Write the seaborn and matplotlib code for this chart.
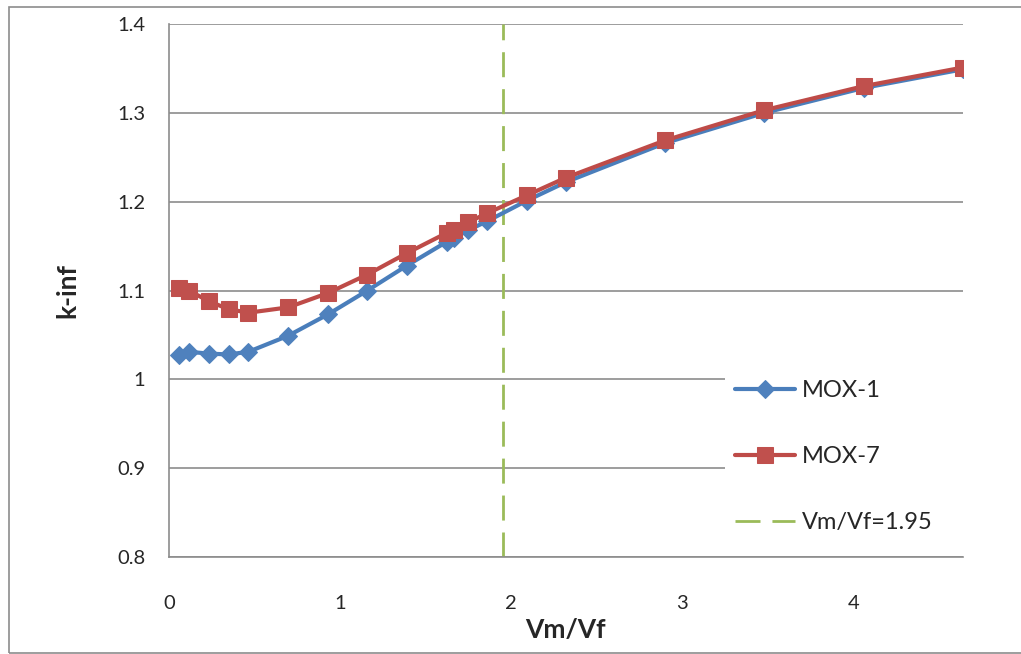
import matplotlib.pyplot as plt
import matplotlib.patches as mpatches
from matplotlib.ticker import FuncFormatter
import seaborn as sns

# values
vm_vf = [0.058, 0.116, 0.232, 0.348, 0.464, 0.696, 0.928, 1.16, 1.39, 1.625,
         1.665, 1.75, 1.86, 2.09, 2.32, 2.90, 3.48, 4.06, 4.64]
mox1 = [1.027, 1.031, 1.029, 1.028, 1.031, 1.049, 1.073, 1.100, 1.128, 1.155,
        1.159, 1.168, 1.178, 1.201, 1.222, 1.266, 1.300, 1.328, 1.349]
mox7 = [1.103, 1.100, 1.088, 1.079, 1.075, 1.081, 1.097, 1.118, 1.142, 1.165,
        1.168, 1.177, 1.187, 1.207, 1.227, 1.269, 1.303, 1.330, 1.351]
vline_x = 1.95
x_ticks = [0, 1, 2, 3, 4]
y_ticks = [0.8, 0.9, 1.0, 1.1, 1.2, 1.3, 1.4]

sns.set_style('white')
plt.rcParams['font.family'] = ['Lato', 'DejaVu Sans']

fig = plt.figure(figsize=(10.21, 6.54), dpi=100)
ax = fig.add_axes([0.1655, 0.1483, 0.7775, 0.815])

# outer chart border
fig.patches.append(mpatches.Rectangle((9 / 1021, 1 - 653 / 654), 1.1, (653 - 7) / 654,
                                      transform=fig.transFigure, fill=False,
                                      edgecolor='#8c8c8c', linewidth=1.2))

sns.lineplot(x=vm_vf, y=mox1, ax=ax, color='#4A7EBB', linewidth=3, marker='D',
             markersize=9, markerfacecolor='#4F81BD', markeredgecolor='#4F81BD',
             label='MOX-1', zorder=3)
sns.lineplot(x=vm_vf, y=mox7, ax=ax, color='#BE4B48', linewidth=3, marker='s',
             markersize=11, markerfacecolor='#C0504D', markeredgecolor='#C0504D',
             label='MOX-7', zorder=4)
ax.axvline(vline_x, color='#9BBB59', linewidth=2, dashes=(9, 4.3),
           label='Vm/Vf=1.95', zorder=2)

ax.set_xlim(0, 4.64)
ax.set_ylim(0.8, 1.4)
ax.set_xticks(x_ticks)
ax.set_yticks(y_ticks)
ax.yaxis.set_major_formatter(FuncFormatter(lambda v, p: f'{v:g}'))
ax.grid(axis='y', color='#8c8c8c', linewidth=1.2)
ax.grid(axis='x', visible=False)
for side in ['top', 'right']:
    ax.spines[side].set_visible(False)
for side in ['left', 'bottom']:
    ax.spines[side].set_color('#8c8c8c')
    ax.spines[side].set_linewidth(1.2)
ax.tick_params(axis='both', direction='out', length=6, width=1.2, color='#8c8c8c',
               labelsize=14.5)
ax.tick_params(axis='y', pad=11)
ax.tick_params(axis='x', pad=21)

ax.set_xlabel('Vm/Vf', fontsize=19, fontweight='bold', labelpad=5)
ax.set_ylabel('k-inf', fontsize=19, fontweight='bold', labelpad=27)

# white legend area hides the gridlines behind it
ax.add_patch(mpatches.Rectangle((0.70, 0.03), 0.30, 0.34, transform=ax.transAxes,
                                facecolor='white', edgecolor='none', zorder=4.5))
leg = ax.legend(loc='upper left', bbox_to_anchor=(0.713, 0.332), fontsize=17,
                frameon=False, handlelength=2.55, labelspacing=1.9, borderpad=0,
                handletextpad=0.3, borderaxespad=0)
leg.set_zorder(5)

plt.savefig('out.png', dpi=100)
plt.close()
